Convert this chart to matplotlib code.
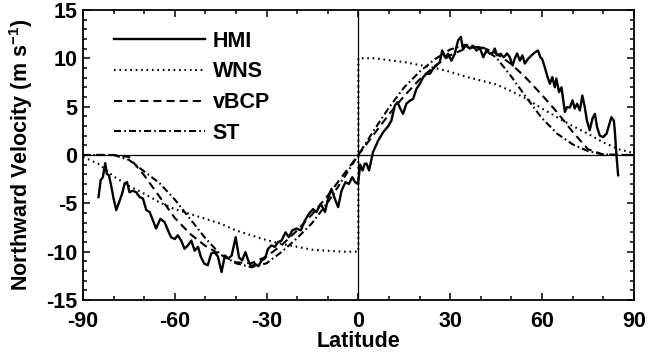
# plot.py
# Northward velocity vs latitude: HMI measurement and three flow models

import matplotlib
matplotlib.use("Agg")
import matplotlib.pyplot as plt
from matplotlib.ticker import MultipleLocator

plt.rcParams['font.family'] = ['Liberation Sans', 'DejaVu Sans']
plt.rcParams['font.weight'] = 'bold'
plt.rcParams['axes.unicode_minus'] = False
plt.rcParams['mathtext.fontset'] = 'custom'
plt.rcParams['mathtext.rm'] = 'Liberation Sans:bold'
plt.rcParams['mathtext.bf'] = 'Liberation Sans:bold'
plt.rcParams['mathtext.default'] = 'bf'

# ---------------- data ----------------
# HMI measured profile
hmi_lat = [-84.9, -84.2, -83.5, -82.7, -82.2, -81.5, -80.7, -80.0, -79.1, -78.0,
           -77.2, -76.4, -75.6, -74.8, -73.7, -72.6, -71.5, -70.4, -69.3, -68.2,
           -67.1, -66.1, -64.7, -63.3, -62.2, -61.2, -60.0, -59.0, -57.9, -56.8,
           -55.7, -54.6, -53.5, -52.4, -51.4, -50.3, -49.2, -48.1, -47.0, -45.9,
           -44.7, -43.6, -42.5, -41.4, -40.1, -39.0, -38.0, -36.9, -36.0, -34.9,
           -33.8, -32.7, -31.6, -30.5, -29.5, -28.4, -27.3, -26.2, -25.1, -23.8,
           -22.7, -21.6, -20.2, -18.8, -17.5, -16.2, -14.8, -13.7, -12.3, -10.9,
           -9.9, -8.8, -7.9, -6.6, -5.5, -4.2, -3.1, -2.0, -1.1, -0.1,
           0.6, 1.4, 2.1, 2.7, 3.5, 4.8, 6.5, 8.1, 9.7, 10.8,
           11.9, 12.8, 13.7, 14.6, 15.7, 16.8, 17.9, 19.0, 20.1, 21.2,
           22.3, 23.4, 24.4, 25.5, 26.6, 27.4, 28.3, 29.3, 30.4, 31.5,
           32.6, 33.5, 34.2, 35.3, 36.4, 37.5, 38.6, 39.7, 40.8, 41.9,
           43.0, 44.0, 44.6, 45.3, 46.5, 47.5, 48.6, 49.5, 50.4, 51.1,
           51.9, 52.8, 53.6, 54.4, 55.5, 56.6, 57.7, 58.7, 59.5, 60.1,
           60.9, 61.7, 62.6, 63.4, 64.2, 64.7, 65.6, 66.4, 66.9, 67.5,
           68.2, 69.1, 70.0, 70.7, 71.5, 72.4, 73.2, 74.0, 74.7, 75.6,
           76.5, 77.3, 78.0, 78.9, 80.0, 81.1, 81.9, 82.7, 83.5, 83.8,
           84.4, 84.9]
hmi_vel = [-4.35, -2.6, -2.3, -0.85, -1.95, -2.1, -3.3, -4.5, -5.7, -4.7,
           -4.0, -3.0, -2.8, -3.85, -3.7, -3.85, -4.35, -4.5, -5.7, -5.9,
           -6.8, -7.6, -6.6, -6.95, -7.8, -8.5, -8.7, -8.3, -8.85, -9.7,
           -9.35, -8.85, -9.9, -9.5, -10.6, -11.25, -11.4, -10.2, -10.05, -10.5,
           -12.1, -10.4, -10.7, -10.4, -8.5, -10.6, -10.9, -10.05, -10.9, -11.6,
           -11.25, -11.5, -10.9, -10.7, -9.7, -9.35, -9.5, -9.0, -8.85, -8.0,
           -8.5, -7.8, -7.6, -7.8, -6.8, -6.1, -5.6, -5.9, -5.05, -5.9,
           -4.5, -3.5, -4.35, -5.4, -3.7, -2.8, -3.0, -2.3, -2.8, -3.0,
           -1.0, -1.6, -0.9, -0.9, -1.6, 0.3, 1.5, 2.35, 2.95, 3.55,
           5.1, 5.45, 4.8, 4.25, 5.3, 5.6, 5.8, 6.85, 7.35, 8.05,
           8.4, 8.4, 8.9, 9.25, 9.6, 10.8, 10.1, 10.45, 9.75, 10.45,
           11.85, 12.2, 11.0, 11.3, 11.0, 11.3, 10.8, 11.1, 10.1, 10.8,
           10.45, 10.6, 11.0, 10.3, 10.45, 10.1, 10.5, 10.1, 9.25, 9.95,
           10.5, 9.75, 10.3, 9.45, 9.95, 10.3, 10.6, 10.8, 10.1, 9.9,
           9.1, 8.2, 7.35, 8.05, 7.0, 7.9, 6.5, 7.0, 5.8, 4.45,
           4.95, 4.9, 5.65, 4.8, 5.3, 4.6, 6.15, 4.95, 3.55, 2.55,
           3.75, 4.25, 2.9, 2.0, 1.85, 2.2, 3.05, 3.9, 3.55, 2.55,
           -0.2, -2.1]

# model profiles, sampled every 5 degrees
model_lat = [-90, -85, -80, -75, -70, -65, -60, -55, -50, -45, -40, -35, -30,
             -25, -20, -15, -10, -5, 0, 5, 10, 15, 20, 25, 30, 35, 40, 45, 50,
             55, 60, 65, 70, 75, 80, 85, 90]
vbcp_vel = [0.0, 0.0, 0.0, -0.2, -2.1, -4.3, -6.5, -8.15, -9.4, -10.3, -11.1,
            -11.2, -10.5, -9.3, -7.8, -6.1, -4.2, -2.1, 0.0, 2.1, 4.2, 6.1, 7.8,
            9.2, 10.3, 11.0, 11.2, 10.5, 9.4, 7.9, 6.2, 4.4, 2.4, 0.6, 0.05, 0.0,
            0.0]
st_vel = [0.0, 0.0, 0.0, -0.5, -1.7, -2.9, -4.6, -6.6, -8.6, -10.3, -11.2,
          -11.6, -11.2, -10.0, -8.6, -7.0, -4.9, -2.5, 0.0, 2.5, 4.9, 7.0, 8.6,
          9.9, 10.9, 11.4, 11.1, 10.1, 8.1, 5.9, 3.8, 2.2, 1.1, 0.4, 0.05, 0.0,
          0.0]

# WNS has a jump at the equator
wns_lat = [-90, -85, -80, -75, -70, -65, -60, -55, -50, -45, -40, -35, -30,
           -25, -20, -15, -10, -5, 0, 0, 5, 10, 15, 20, 25, 30, 35, 40, 45, 50,
           55, 60, 65, 70, 75, 80, 85, 90]
wns_vel = [-0.2, -0.9, -2.2, -3.2, -4.0, -4.9, -5.6, -6.1, -6.6, -7.1, -7.8,
           -8.3, -8.8, -9.2, -9.5, -9.8, -9.9, -10.0, -10.0, 10.0, 10.0, 9.8,
           9.6, 9.3, 9.0, 8.6, 8.1, 7.7, 7.3, 6.6, 5.8, 4.8, 3.9, 3.0, 2.2,
           1.3, 0.6, 0.2]

x_ticks = [-90, -60, -30, 0, 30, 60, 90]
y_ticks = [-15, -10, -5, 0, 5, 10, 15]

# ---------------- figure ----------------
fs = 15.5
lw = 1.5
fig = plt.figure(figsize=(6.48, 3.53), dpi=100)
ax = fig.add_axes([0.128, 0.150, 0.850, 0.822])

ax.axhline(0, color='black', lw=0.9, zorder=1)
ax.axvline(0, color='black', lw=0.9, zorder=1)

ax.plot(hmi_lat, hmi_vel, color='black', lw=1.7, ls='-', label='HMI')
ax.plot(wns_lat, wns_vel, color='black', lw=lw, ls=(0, (0.8, 1.8)), label='WNS')
ax.plot(model_lat, vbcp_vel, color='black', lw=lw, ls=(0, (3.9, 2.4)), label='vBCP')
ax.plot(model_lat, st_vel, color='black', lw=lw, ls=(0, (3.4, 1.5, 0.8, 1.5)), label='ST')

ax.set_xlim(-90, 90)
ax.set_ylim(-15, 15)
ax.set_xticks(x_ticks)
ax.set_yticks(y_ticks)
ax.xaxis.set_minor_locator(MultipleLocator(10))
ax.yaxis.set_minor_locator(MultipleLocator(1))
ax.tick_params(which='both', direction='in', top=True, right=True, width=1.1)
ax.tick_params(which='major', length=5)
ax.tick_params(which='minor', length=3)
ax.tick_params(axis='x', which='major', pad=8, labelsize=fs)
ax.tick_params(axis='y', which='major', pad=4, labelsize=fs)
for lab in ax.get_xticklabels() + ax.get_yticklabels():
    lab.set_fontweight('bold')
for sp in ax.spines.values():
    sp.set_linewidth(1.3)

ax.set_xlabel('Latitude', fontsize=fs, fontweight='bold', labelpad=-1)
ax.set_ylabel(r'Northward Velocity (m s$^{-1}$)', fontsize=fs,
              fontweight='bold', labelpad=8)

leg = ax.legend(loc='upper left', bbox_to_anchor=(0.057, 0.928), frameon=False,
                fontsize=fs, handlelength=4.2, handletextpad=0.37,
                labelspacing=0.45, borderaxespad=0, borderpad=0)
for t in leg.get_texts():
    t.set_fontweight('bold')

fig.savefig('out.png', dpi=100)
